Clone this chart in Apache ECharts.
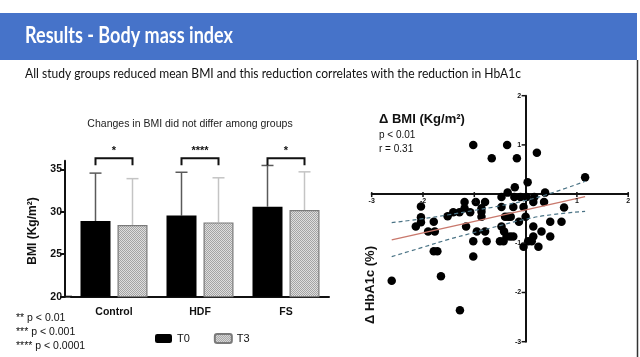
<!DOCTYPE html>
<html><head><meta charset="utf-8">
<script src="https://cdn.jsdelivr.net/npm/echarts@6/dist/echarts.min.js"></script>
<style>html,body{margin:0;padding:0;background:#fff}#c{width:640px;height:357px}</style>
</head><body><div id="c"></div><script>
// ---- Bar chart data ----
const groups = ['Control', 'HDF', 'FS'];
const t0Mean = [28.9, 29.55, 30.6];
const t3Mean = [28.45, 28.75, 30.2];
const t0Upper = [34.55, 34.65, 35.45];
const t3Upper = [33.9, 34.0, 34.7];
const sigLabels = ['*', '****', '*'];
const sigLevel = [36.3, 36.3, 36.3];
const barTicks = [20, 25, 30, 35];
const footnotes = ['** p < 0.01', '*** p < 0.001', '**** p < 0.0001'];

// ---- Scatter data (ΔBMI, ΔHbA1c) ----
const scatterPoints = [
 [-1.02,1.0],[-0.36,1.0],[-0.66,0.73],[-0.17,0.73],[0.22,0.84],[1.16,0.34],[0.04,0.24],[-0.21,0.14],
 [-0.35,0.03],[0.38,0.03],
 [-0.47,-0.06],[-0.22,-0.06],[-0.1,-0.06],[0.02,-0.06],[0.17,-0.06],
 [-1.19,-0.16],[-0.97,-0.16],[-0.79,-0.16],[0.15,-0.16],[0.36,-0.16],
 [-2.04,-0.25],[-1.19,-0.29],[-0.86,-0.29],[-0.47,-0.26],[-0.24,-0.26],[-0.04,-0.26],[0.75,-0.27],
 [-1.41,-0.37],[-1.29,-0.37],[-1.08,-0.37],[-0.86,-0.36],
 [-1.52,-0.45],[-2.04,-0.47],[-0.86,-0.46],[-0.4,-0.46],[-0.34,-0.46],[-0.29,-0.46],[0.0,-0.46],
 [-2.04,-0.57],[-1.79,-0.56],[-0.13,-0.56],[0.48,-0.56],[0.7,-0.56],
 [-2.14,-0.66],[-1.16,-0.66],[-0.47,-0.66],[0.15,-0.66],
 [-1.9,-0.76],[-1.77,-0.76],[-0.95,-0.76],[-0.79,-0.76],[-0.42,-0.76],[0.31,-0.76],
 [-0.37,-0.86],[-0.3,-0.86],[-0.24,-0.86],[0.15,-0.86],[0.48,-0.86],
 [-1.02,-0.96],[-0.76,-0.96],[-0.5,-0.96],[-0.43,-0.96],[0.05,-0.96],[0.12,-0.96],
 [-0.04,-1.07],[0.25,-1.07],
 [-1.79,-1.16],[-1.72,-1.16],
 [-1.02,-1.27],
 [-1.65,-1.67],[-2.61,-1.76],[-1.28,-2.36]
];
const fitLine = [[-2.61,-0.93],[1.16,-0.05]];
const ciUpper = [[-2.61,-0.58],[-2,-0.5],[-1.5,-0.42],[-1,-0.33],[-0.5,-0.24],[0,-0.13],[0.5,0.02],[1.16,0.26]];
const ciLower = [[-2.61,-1.27],[-2,-1.08],[-1.5,-0.92],[-1,-0.78],[-0.5,-0.64],[0,-0.51],[0.5,-0.42],[1.16,-0.35]];
const scatterTicks = [-3, -2, -1, 1, 2];

// ---- pattern for T3 ----
const pc = document.createElement('canvas');
pc.width = 2; pc.height = 2;
const pctx = pc.getContext('2d');
pctx.fillStyle = '#dedede'; pctx.fillRect(0,0,2,2);
pctx.fillStyle = '#a4a4a4'; pctx.fillRect(0,0,1,1); pctx.fillRect(1,1,1,1);
const t3Fill = { image: pc, repeat: 'repeat' };

const BAR_W = 30, BAR_GAP = 7, OFF = BAR_W/2 + BAR_GAP/2;
const AF = 'Liberation Sans, Arial, sans-serif';
const TICK_FONT = 'bold 7px ' + AF;

function errRender(sign, color) {
  return function (params, api) {
    const i = api.value(0);
    const b = api.coord([i, api.value(1)]);
    const t = api.coord([i, api.value(2)]);
    const x = b[0] + sign * OFF;
    return { type: 'group', children: [
      { type: 'line', shape: { x1: x, y1: b[1], x2: x, y2: t[1] }, style: { stroke: color, lineWidth: 1.5 } },
      { type: 'line', shape: { x1: x - 6, y1: t[1], x2: x + 6, y2: t[1] }, style: { stroke: color, lineWidth: 1.5 } }
    ]};
  };
}
function sigRender(params, api) {
  const i = api.value(0);
  const p = api.coord([i, api.value(1)]);
  const x1 = p[0] - OFF, x2 = p[0] + OFF;
  return { type: 'group', children: [
    { type: 'polyline', shape: { points: [[x1, p[1] + 7], [x1, p[1]], [x2, p[1]], [x2, p[1] + 7]] },
      style: { stroke: '#111', lineWidth: 2, fill: null } },
    { type: 'text', x: p[0], y: p[1] - 2, style: { text: sigLabels[params.dataIndex], align: 'center', verticalAlign: 'bottom',
      font: 'bold 11px ' + AF, fill: '#111' } }
  ]};
}
// tick marks + labels along the zero-crossing axes of the scatter
function xTickRender(params, api) {
  const v = api.value(0);
  const p = api.coord([v, 0]);
  return { type: 'group', children: [
    { type: 'line', shape: { x1: p[0], y1: p[1] - 2, x2: p[0], y2: p[1] + 3 }, style: { stroke: '#111', lineWidth: 1.5 } },
    { type: 'text', x: p[0], y: p[1] + 3, style: { text: String(v), font: TICK_FONT, fill: '#111', align: 'center', verticalAlign: 'top' } }
  ]};
}
function yTickRender(params, api) {
  const v = api.value(0);
  const p = api.coord([0, v]);
  return { type: 'group', children: [
    { type: 'line', shape: { x1: p[0] - 4, y1: p[1], x2: p[0], y2: p[1] }, style: { stroke: '#111', lineWidth: 1.5 } },
    { type: 'text', x: p[0] - 4.5, y: p[1], style: { text: String(v), font: TICK_FONT, fill: '#111', align: 'right', verticalAlign: 'middle' } }
  ]};
}

const chart = echarts.init(document.getElementById('c'));
chart.setOption({
  backgroundColor: '#ffffff',
  animation: false,
  graphic: [
    { type: 'rect', shape: { x: 0, y: 13, width: 637, height: 47 }, style: { fill: '#4673c9' }, z: -1 },
    { type: 'text', x: 25, y: 36, scaleX: 0.82, style: { text: 'Results - Body mass index', font: 'bold 22px Lato, sans-serif', fill: '#fff', verticalAlign: 'middle' } },
    { type: 'text', x: 25, y: 73, scaleX: 0.862, style: { text: 'All study groups reduced mean BMI and this reduction correlates with the reduction in HbA1c', font: '14px Lato, sans-serif', fill: '#111', verticalAlign: 'middle' } },
    { type: 'line', shape: { x1: 637.5, y1: 60, x2: 637.5, y2: 357 }, style: { stroke: '#333', lineWidth: 1.5 } },
    { type: 'text', x: 190, y: 124, style: { text: 'Changes in BMI did not differ among groups', font: '10.5px ' + AF, fill: '#222', align: 'center', verticalAlign: 'middle' } },
    { type: 'text', x: 33, y: 231, rotation: Math.PI / 2, style: { text: 'BMI (Kg/m²)', font: 'bold 12px ' + AF, fill: '#111', align: 'center', verticalAlign: 'middle' } },
    { type: 'line', shape: { x1: 64, y1: 296.7, x2: 72, y2: 296.7 }, style: { stroke: '#111', lineWidth: 2 } },
    { type: 'text', x: 16, y: 318, style: { text: footnotes[0], font: '10.5px ' + AF, fill: '#111', verticalAlign: 'middle' } },
    { type: 'text', x: 16, y: 332, style: { text: footnotes[1], font: '10.5px ' + AF, fill: '#111', verticalAlign: 'middle' } },
    { type: 'text', x: 16, y: 346.5, style: { text: footnotes[2], font: '10.5px ' + AF, fill: '#111', verticalAlign: 'middle' } },
    { type: 'text', x: 379, y: 119, style: { text: 'Δ BMI (Kg/m²)', font: 'bold 13px ' + AF, fill: '#111', verticalAlign: 'middle' } },
    { type: 'text', x: 379, y: 135, style: { text: 'p < 0.01', font: '10px ' + AF, fill: '#111', verticalAlign: 'middle' } },
    { type: 'text', x: 379, y: 149.5, style: { text: 'r = 0.31', font: '10px ' + AF, fill: '#111', verticalAlign: 'middle' } },
    { type: 'text', x: 370, y: 285, rotation: Math.PI / 2, style: { text: 'Δ HbA1c (%)', font: 'bold 13px ' + AF, fill: '#111', align: 'center', verticalAlign: 'middle' } }
  ],
  legend: {
    data: ['T0', 'T3'], left: 155, top: 333, padding: 0, itemWidth: 17, itemHeight: 9, itemGap: 24,
    textStyle: { fontFamily: AF, fontSize: 11, color: '#111' }
  },
  grid: [
    { left: 71, top: 160.8, width: 258, height: 135.9 },
    { left: 371.7, top: 95.7, width: 256.5, height: 246 }
  ],
  xAxis: [
    { type: 'category', gridIndex: 0, data: groups,
      axisLine: { lineStyle: { color: '#111', width: 2 } },
      axisTick: { alignWithLabel: true, length: 5, lineStyle: { color: '#111', width: 2 } },
      axisLabel: { margin: 10, color: '#111', fontFamily: AF, fontWeight: 'bold', fontSize: 10.5 },
      splitLine: { show: false } },
    { type: 'value', gridIndex: 1, min: -3, max: 2, interval: 1,
      axisLine: { onZero: true, lineStyle: { color: '#111', width: 2 } },
      axisTick: { show: false }, axisLabel: { show: false },
      splitLine: { show: false } }
  ],
  yAxis: [
    { type: 'value', gridIndex: 0, min: 20, max: 36, offset: 6,
      axisLine: { show: true, lineStyle: { color: '#111', width: 2 } },
      axisTick: { show: true, length: 5, customValues: barTicks, lineStyle: { color: '#111', width: 2 } },
      axisLabel: { margin: 3, customValues: barTicks, color: '#111', fontFamily: AF, fontWeight: 'bold', fontSize: 10.5 },
      splitLine: { show: false } },
    { type: 'value', gridIndex: 1, min: -3, max: 2, interval: 1,
      axisLine: { show: true, onZero: true, lineStyle: { color: '#111', width: 2 } },
      axisTick: { show: false }, axisLabel: { show: false },
      splitLine: { show: false } }
  ],
  series: [
    { name: 'T0', type: 'bar', xAxisIndex: 0, yAxisIndex: 0, data: t0Mean, barWidth: BAR_W, barGap: (BAR_GAP / BAR_W * 100) + '%',
      itemStyle: { color: '#000' }, z: 3 },
    { name: 'T3', type: 'bar', xAxisIndex: 0, yAxisIndex: 0, data: t3Mean, barWidth: BAR_W,
      itemStyle: { color: t3Fill, borderColor: '#7a7a7a', borderWidth: 1.2 }, z: 3 },
    { type: 'custom', xAxisIndex: 0, yAxisIndex: 0, renderItem: errRender(-1, '#5a5a5a'), clip: false, z: 2,
      data: groups.map((g, i) => [i, t0Mean[i], t0Upper[i]]) },
    { type: 'custom', xAxisIndex: 0, yAxisIndex: 0, renderItem: errRender(1, '#c4c4c4'), clip: false, z: 2,
      data: groups.map((g, i) => [i, t3Mean[i], t3Upper[i]]) },
    { type: 'custom', xAxisIndex: 0, yAxisIndex: 0, renderItem: sigRender, clip: false, z: 4,
      data: groups.map((g, i) => [i, sigLevel[i]]) },
    { type: 'custom', xAxisIndex: 1, yAxisIndex: 1, renderItem: xTickRender, clip: false, z: 5,
      data: scatterTicks.map(t => [t]) },
    { type: 'custom', xAxisIndex: 1, yAxisIndex: 1, renderItem: yTickRender, clip: false, z: 5,
      data: scatterTicks.map(t => [t]), encode: { y: 0 } },
    { type: 'scatter', xAxisIndex: 1, yAxisIndex: 1, data: scatterPoints, symbolSize: 8.5,
      itemStyle: { color: '#000', opacity: 1 }, z: 3 },
    { type: 'line', xAxisIndex: 1, yAxisIndex: 1, data: fitLine, symbol: 'none',
      lineStyle: { color: '#c9786c', width: 1.4 }, z: 4 },
    { type: 'line', xAxisIndex: 1, yAxisIndex: 1, data: ciUpper, symbol: 'none', smooth: true,
      lineStyle: { color: '#4a7385', width: 1.2, type: [4, 3] }, z: 4 },
    { type: 'line', xAxisIndex: 1, yAxisIndex: 1, data: ciLower, symbol: 'none', smooth: true,
      lineStyle: { color: '#4a7385', width: 1.2, type: [4, 3] }, z: 4 }
  ]
});
</script></body></html>
